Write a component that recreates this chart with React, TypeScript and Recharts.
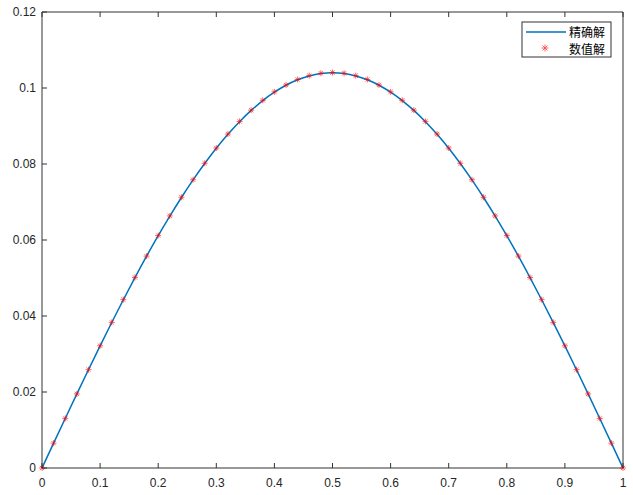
import { LineChart, Line, XAxis, YAxis } from 'recharts';

const xValues = [
  0, 0.02, 0.04, 0.06, 0.08, 0.1, 0.12, 0.14, 0.16, 0.18, 0.2, 0.22, 0.24, 0.26, 0.28, 0.3, 0.32,
  0.34, 0.36, 0.38, 0.4, 0.42, 0.44, 0.46, 0.48, 0.5, 0.52, 0.54, 0.56, 0.58, 0.6, 0.62, 0.64,
  0.66, 0.68, 0.7, 0.72, 0.74, 0.76, 0.78, 0.8, 0.82, 0.84, 0.86, 0.88, 0.9, 0.92, 0.94, 0.96,
  0.98, 1,
];

const exactValues = [
  0, 0.00653, 0.01303, 0.01949, 0.02586, 0.03214, 0.03828, 0.04428, 0.0501, 0.05573, 0.06113,
  0.06629, 0.07119, 0.07581, 0.08013, 0.08414, 0.08781, 0.09114, 0.0941, 0.0967, 0.09891, 0.10073,
  0.10216, 0.10318, 0.1038, 0.104, 0.1038, 0.10318, 0.10216, 0.10073, 0.09891, 0.0967, 0.0941,
  0.09114, 0.08781, 0.08414, 0.08013, 0.07581, 0.07119, 0.06629, 0.06113, 0.05573, 0.0501,
  0.04428, 0.03828, 0.03214, 0.02586, 0.01949, 0.01303, 0.00653, 0,
];

const numericValues = [
  0, 0.00654, 0.01304, 0.0195, 0.02588, 0.03216, 0.03831, 0.04431, 0.05013, 0.05577, 0.06118,
  0.06634, 0.07124, 0.07586, 0.08019, 0.0842, 0.08788, 0.09121, 0.09417, 0.09677, 0.09898, 0.1008,
  0.10224, 0.10326, 0.10388, 0.10408, 0.10388, 0.10326, 0.10224, 0.1008, 0.09898, 0.09677,
  0.09417, 0.09121, 0.08788, 0.0842, 0.08019, 0.07586, 0.07124, 0.06634, 0.06118, 0.05577,
  0.05013, 0.04431, 0.03831, 0.03216, 0.02588, 0.0195, 0.01304, 0.00654, 0,
];

const xTicks = [0, 0.1, 0.2, 0.3, 0.4, 0.5, 0.6, 0.7, 0.8, 0.9, 1];
const yTicks = [0, 0.02, 0.04, 0.06, 0.08, 0.1, 0.12];

const legendLabels = ['精确解', '数值解'];

const data = xValues.map((x, i) => ({ x, exact: exactValues[i], numeric: numericValues[i] }));

const AXIS = '#333333';
const BLUE = '#0072BD';
const RED = '#ff0000';
const FONT = '"Liberation Sans", Arial, sans-serif';
const CJK = '"Noto Sans CJK SC", sans-serif';

function BottomTick({ x, y, payload }: any) {
  return (
    <g>
      <line x1={x} y1={y} x2={x} y2={y - 5} stroke={AXIS} />
      <text x={x} y={y + 19} textAnchor="middle" fontSize={12} fill="#262626" fontFamily={FONT}>
        {String(payload.value)}
      </text>
    </g>
  );
}

function TopTick({ x, y }: any) {
  return <line x1={x} y1={y} x2={x} y2={y + 5} stroke={AXIS} />;
}

function LeftTick({ x, y, payload }: any) {
  return (
    <g>
      <line x1={x} y1={y} x2={x + 5} y2={y} stroke={AXIS} />
      <text x={x - 6} y={y + 4} textAnchor="end" fontSize={12} fill="#262626" fontFamily={FONT}>
        {String(payload.value)}
      </text>
    </g>
  );
}

function RightTick({ x, y }: any) {
  return <line x1={x} y1={y} x2={x - 5} y2={y} stroke={AXIS} />;
}

function Asterisk({ cx, cy, r = 3.5 }: any) {
  if (cx == null || cy == null) return null;
  const d = r * 0.7071;
  return (
    <g stroke={RED} strokeWidth={0.8} opacity={0.75}>
      <line x1={cx - r} y1={cy} x2={cx + r} y2={cy} />
      <line x1={cx} y1={cy - r} x2={cx} y2={cy + r} />
      <line x1={cx - d} y1={cy - d} x2={cx + d} y2={cy + d} />
      <line x1={cx - d} y1={cy + d} x2={cx + d} y2={cy - d} />
    </g>
  );
}

function LegendBox() {
  return (
    <svg width={91} height={37} style={{ position: 'absolute', left: 521, top: 21 }}>
      <rect x={1} y={1} width={89} height={35} fill="#fff" stroke={AXIS} strokeWidth={1} />
      <line x1={5} y1={11} x2={45} y2={11} stroke={BLUE} strokeWidth={1.5} />
      <text x={48} y={15.5} fontSize={12} fill="#000" fontFamily={CJK}>
        {legendLabels[0]}
      </text>
      <Asterisk cx={24} cy={27} />
      <text x={48} y={33} fontSize={12} fill="#000" fontFamily={CJK}>
        {legendLabels[1]}
      </text>
    </svg>
  );
}

export default function App() {
  return (
    <div style={{ position: 'absolute', left: 0, top: 0, width: 633, height: 495, background: '#fff' }}>
      <LineChart width={633} height={495} data={data} margin={{ top: 11, right: 9, bottom: 0, left: 0 }}>
        <XAxis
          dataKey="x"
          type="number"
          domain={[0, 1]}
          ticks={xTicks}
          height={27}
          tickSize={0}
          tickMargin={0}
          tickLine={false}
          axisLine={{ stroke: AXIS, strokeWidth: 1 }}
          tick={<BottomTick />}
          interval={0}
        />
        <XAxis
          xAxisId="top"
          orientation="top"
          dataKey="x"
          type="number"
          domain={[0, 1]}
          ticks={xTicks}
          height={1}
          tickSize={0}
          tickMargin={0}
          tickLine={false}
          axisLine={{ stroke: AXIS, strokeWidth: 1 }}
          tick={<TopTick />}
          interval={0}
        />
        <YAxis
          type="number"
          domain={[0, 0.12]}
          ticks={yTicks}
          width={42}
          tickSize={0}
          tickMargin={0}
          tickLine={false}
          axisLine={{ stroke: AXIS, strokeWidth: 1 }}
          tick={<LeftTick />}
          interval={0}
        />
        <YAxis
          yAxisId="right"
          orientation="right"
          type="number"
          domain={[0, 0.12]}
          ticks={yTicks}
          width={1}
          tickSize={0}
          tickMargin={0}
          tickLine={false}
          axisLine={{ stroke: AXIS, strokeWidth: 1 }}
          tick={<RightTick />}
          interval={0}
        />
        <Line
          dataKey="exact"
          type="monotone"
          stroke={BLUE}
          strokeWidth={1.5}
          dot={false}
          activeDot={false}
          isAnimationActive={false}
        />
        <Line
          dataKey="numeric"
          type="linear"
          stroke="none"
          dot={<Asterisk />}
          activeDot={false}
          isAnimationActive={false}
        />
      </LineChart>
      <LegendBox />
    </div>
  );
}
